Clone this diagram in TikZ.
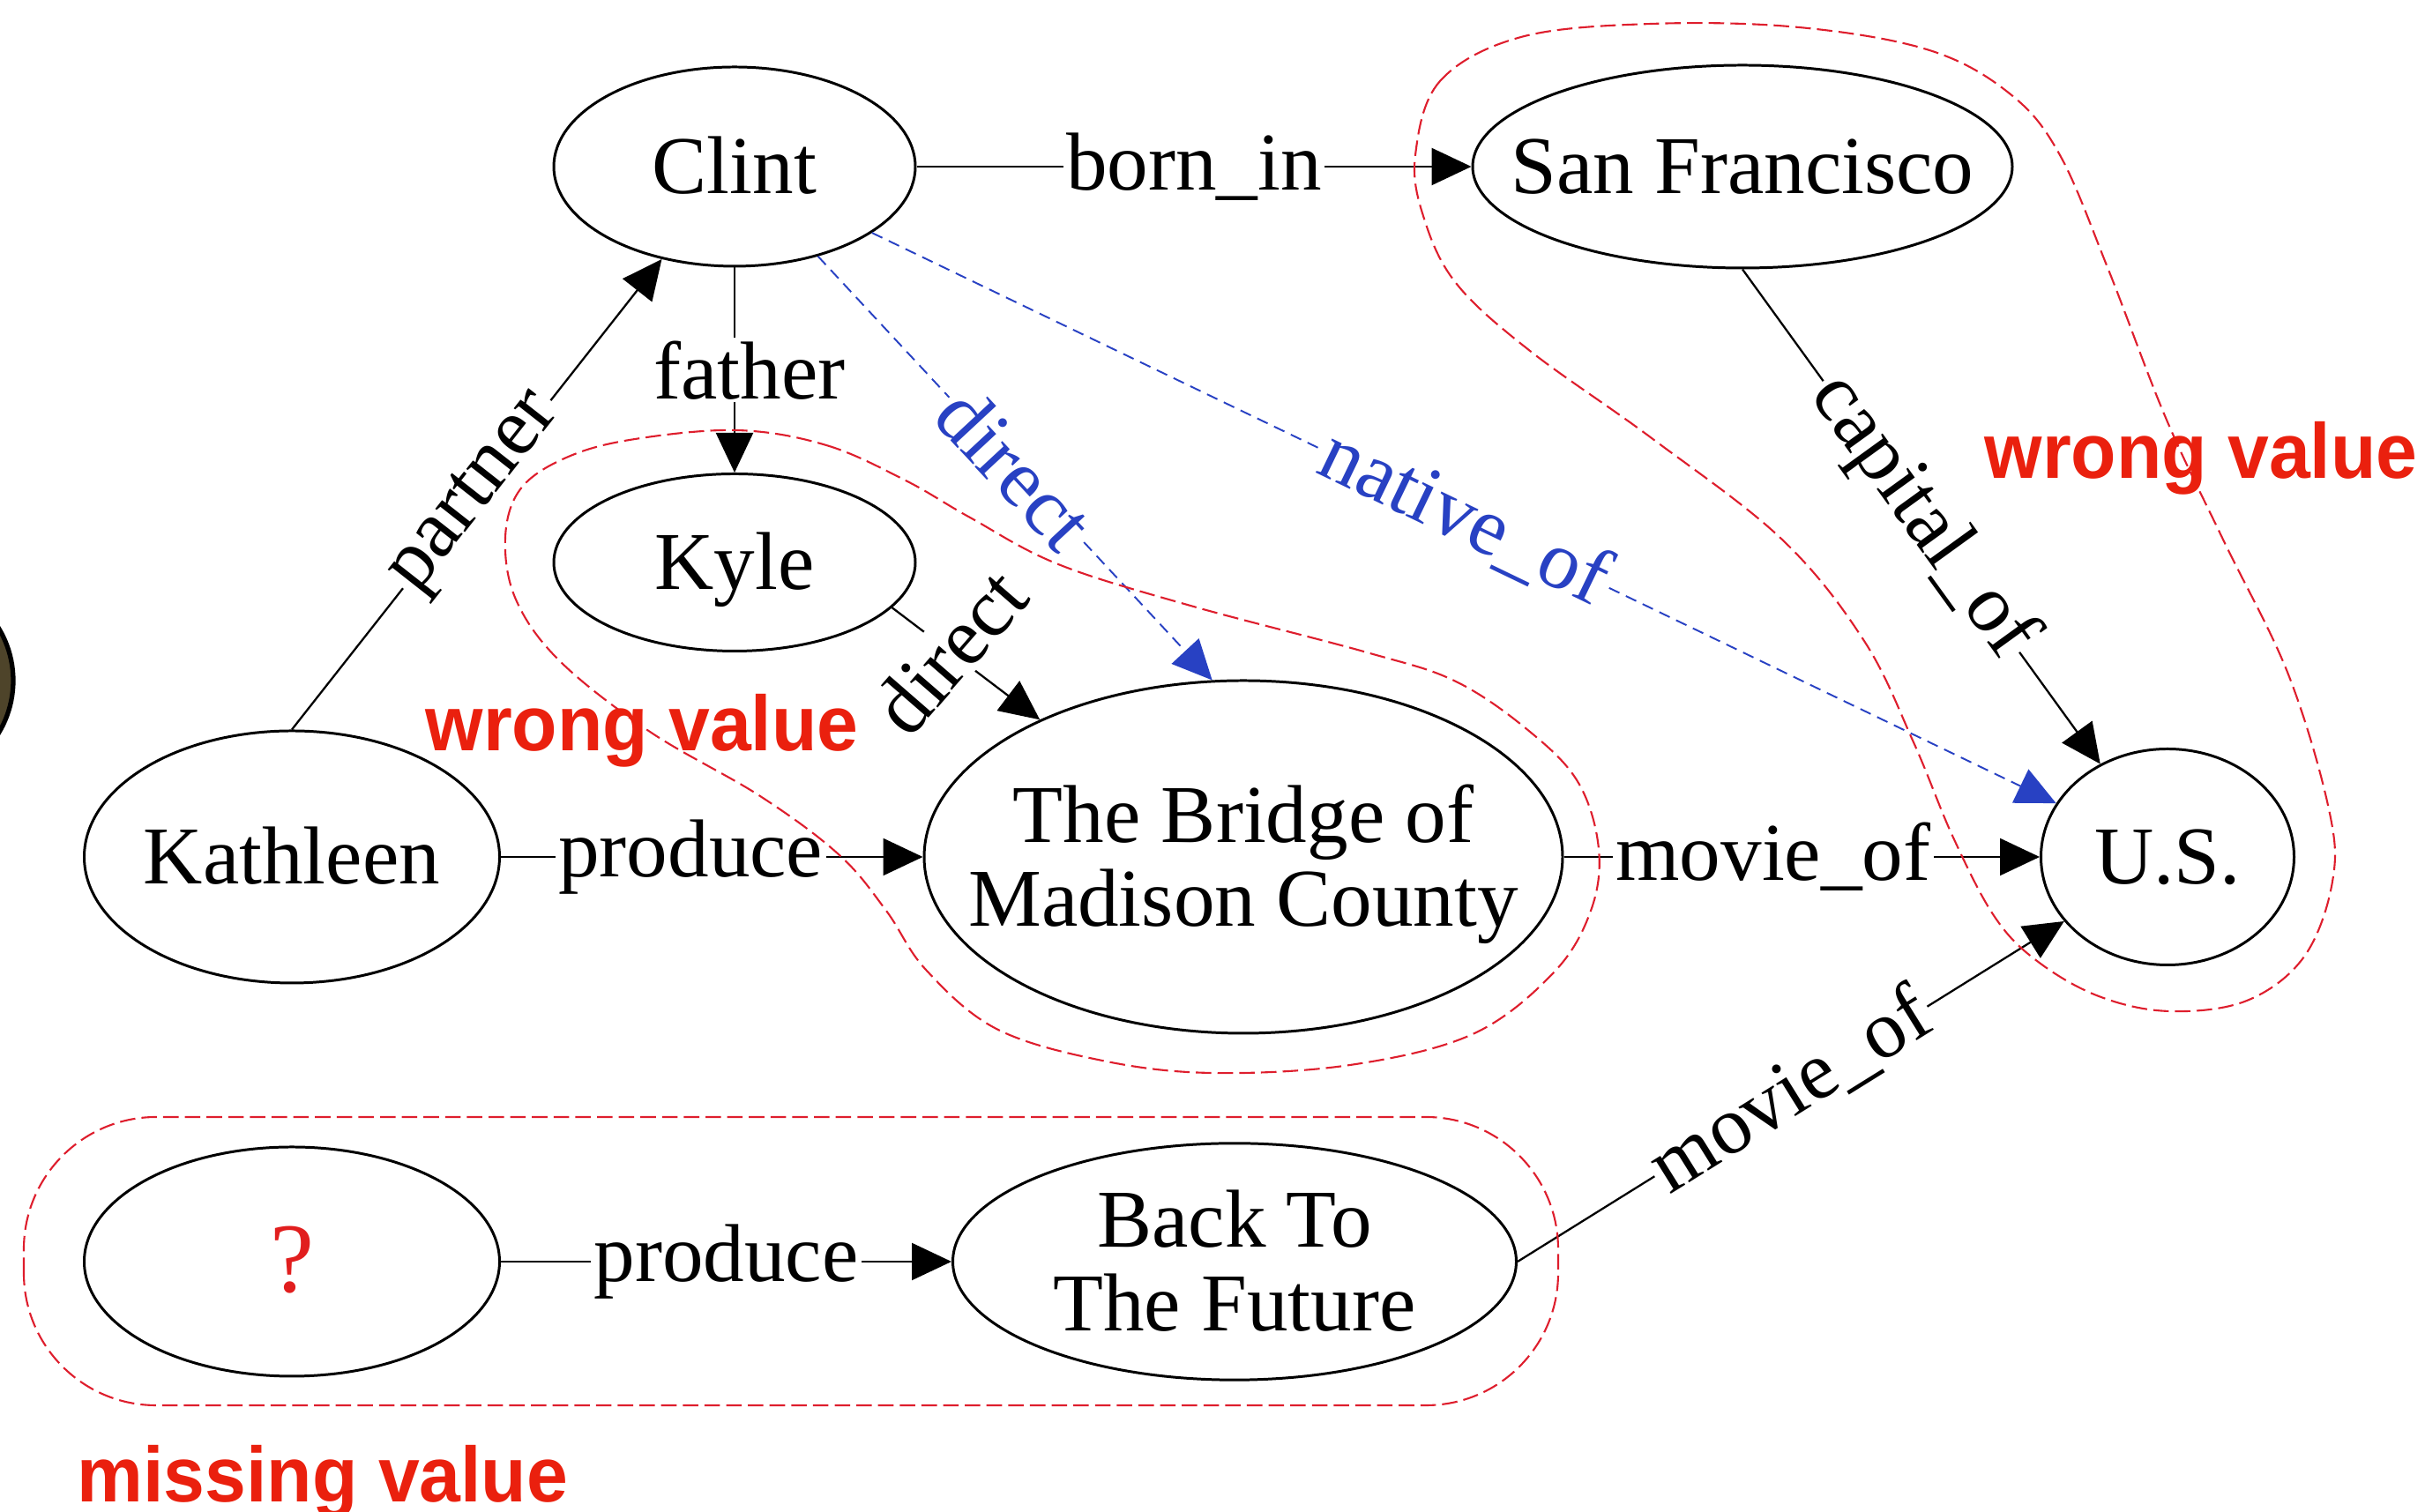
\documentclass[tikz,border=0pt]{standalone}
\usepackage{fontspec}
\setmainfont{Liberation Serif}
\newfontfamily\notefont[FakeStretch=0.95]{Liberation Sans}
\usetikzlibrary{shapes.geometric,arrows.meta}

\definecolor{kgblue}{RGB}{40,65,195}
\definecolor{hullred}{RGB}{222,30,45}
\definecolor{notered}{RGB}{234,32,14}
\definecolor{qred}{RGB}{225,30,30}
\definecolor{photodark}{RGB}{78,68,42}

\newcommand{\enttext}[1]{\makebox[0pt]{\raisebox{-3.3pt}[\height][\depth]{\begin{tabular}{@{}c@{}}#1\end{tabular}}}}

\begin{document}
\begin{tikzpicture}[
    entity/.style={ellipse, draw, line width=0.85pt, inner sep=0pt},
    rel/.style={-{Triangle[length=0.45cm,width=0.42cm]}, line width=0.65pt},
    infer/.style={rel, draw=kgblue, line width=0.55pt, dash pattern=on 3.7pt off 2.3pt},
    lab/.style={fill=white, inner sep=1pt},
    hull/.style={draw=hullred, line width=0.6pt, dash pattern=on 5pt off 2pt},
    note/.style={text=notered, font=\notefont\bfseries\fontsize{25.2}{28}\selectfont},
    font=\fontsize{26.5}{27}\selectfont
]

    \useasboundingbox (0,0) rectangle (27.5,17.15);

    \begin{scope}
        \clip (0,0) rectangle (27.5,17.15);
        \fill[photodark, draw=black, line width=1.5pt] (-1.0,9.43) circle (1.15);
    \end{scope}

    \node[entity, minimum width=4.10cm, minimum height=2.26cm] (clint) at (8.33,15.26) {\enttext{Clint}};
    \node[entity, minimum width=6.12cm, minimum height=2.30cm] (sf) at (19.76,15.26) {\enttext{San Francisco}};
    \node[entity, minimum width=4.10cm, minimum height=2.01cm] (kyle) at (8.33,10.77) {\enttext{Kyle}};
    \node[entity, minimum width=4.71cm, minimum height=2.86cm] (kathleen) at (3.31,7.43) {\enttext{Kathleen}};
    \node[entity, minimum width=7.24cm, minimum height=4.00cm] (bridge) at (14.10,7.43) {\enttext{The Bridge of\\Madison County}};
    \node[entity, minimum width=2.87cm, minimum height=2.45cm] (us) at (24.58,7.43) {\enttext{U.S.}};
    \node[entity, minimum width=4.71cm, minimum height=2.60cm] (unknown) at (3.31,2.84) {\enttext{\fontsize{32}{32}\selectfont\textcolor{qred}{?}}};
    \node[entity, minimum width=6.39cm, minimum height=2.67cm] (bttf) at (14.00,2.84) {\enttext{Back To\\The Future}};

    \draw[rel] (clint) -- node[lab] {born\_in} (sf);
    \draw[rel] (clint) -- node[lab, xshift=0.17cm] {father} (kyle);
    \draw[rel] (kathleen.north) -- node[lab, sloped] {partner} (clint);
    \draw[rel] (kyle.-16) -- node[lab, pos=0.39, rotate=49] {direct} (bridge.146);
    \draw[rel] (kathleen) -- node[lab, pos=0.45] {produce} (bridge);
    \draw[rel] (bridge) -- node[lab, pos=0.44] {movie\_of} (us);
    \draw[rel] (sf.south) -- node[lab, sloped] {capital\_of} (us);
    \draw[rel] (unknown) -- node[lab] {produce} (bttf);
    \draw[rel] (bttf.east) -- node[lab, sloped] {movie\_of} (us);

    \draw[infer] (clint) -- node[lab, sloped, text=kgblue] {direct} (bridge.100);
    \draw[infer] (clint) -- node[lab, sloped, text=kgblue] {native\_of} (us);

    \draw[hull] plot[smooth cycle, tension=0.6] coordinates {(16.05,15.39) (16.33,16.23) (17.25,16.73) (18.73,16.88) (20.40,16.84) (21.88,16.58) (22.80,16.08) (23.36,15.39) (23.91,14.09) (24.56,12.41) (25.21,11.03) (25.95,9.50) (26.41,7.97) (26.45,7.15) (26.13,6.30) (25.48,5.80) (24.60,5.68) (23.80,5.85) (23.10,6.25) (22.62,6.75) (22.15,7.65) (21.70,8.73) (21.14,9.88) (20.21,11.03) (18.73,12.18) (17.35,13.17) (16.51,13.94) (16.14,14.70)};
    \draw[hull] plot[smooth cycle, tension=0.6] coordinates {(8.35,12.27) (9.37,12.10) (10.27,11.70) (11.00,11.28) (12.00,10.75) (13.50,10.28) (15.50,9.75) (16.51,9.42) (17.35,8.85) (17.90,8.27) (18.13,7.52) (18.04,6.82) (17.62,6.12) (16.70,5.42) (15.31,5.07) (13.74,4.98) (12.50,5.12) (11.30,5.48) (10.50,6.15) (10.05,6.82) (9.52,7.45) (8.62,8.12) (7.37,8.85) (6.35,9.65) (5.85,10.35) (5.73,11.05) (5.90,11.60) (6.40,11.95) (7.14,12.16)};
    \draw[hull, rounded corners=1.5cm] (0.27,1.21) rectangle (17.67,4.48);

    \node[note] (wrongsf) at (24.96,11.95) {wrong value};
    \node[note] (wrongkyle) at (7.28,8.86) {wrong value};
    \node[note] (missing) at (3.66,0.34) {missing value};

\end{tikzpicture}
\end{document}
